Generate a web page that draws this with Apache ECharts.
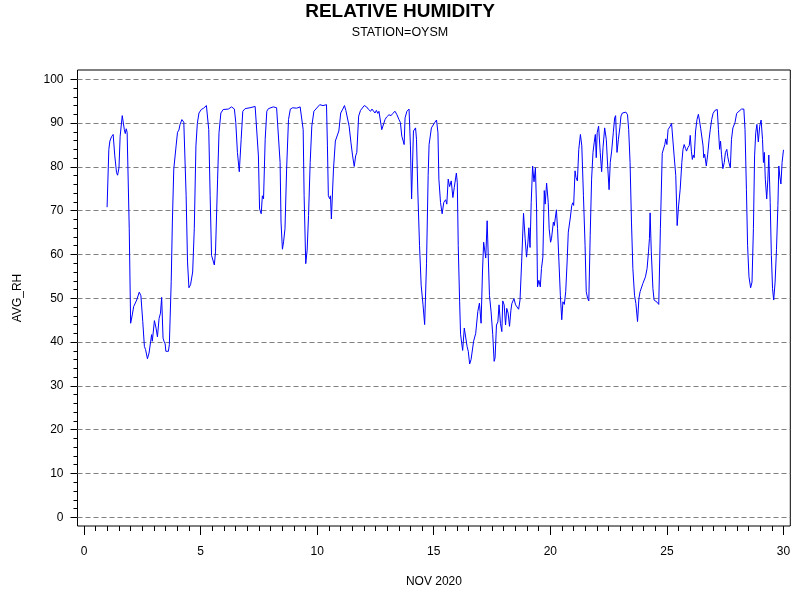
<!DOCTYPE html>
<html>
<head>
<meta charset="utf-8">
<script src="https://cdn.jsdelivr.net/npm/echarts@6/dist/echarts.min.js"></script>
<style>
  html, body { margin: 0; padding: 0; background: #fff; }
  #main { width: 800px; height: 600px; }
</style>
</head>
<body>
<div id="main"></div>
<script>
/* Relative humidity, station OYSM, Nov 2020 */

const days = [
  0.99, 1.065, 1.11, 1.18, 1.25, 1.32, 1.395, 1.44, 1.50, 1.55, 1.64, 1.73, 1.77, 1.81, 1.85, 1.90,
  1.94, 2.00, 2.07, 2.13, 2.19, 2.26, 2.37, 2.44, 2.52, 2.59, 2.64, 2.72, 2.79, 2.86, 2.90, 2.93,
  3.02, 3.09, 3.15, 3.22, 3.28, 3.33, 3.39, 3.43, 3.48, 3.51, 3.55, 3.62, 3.66, 3.74, 3.79, 3.85,
  3.91, 3.95, 4.01, 4.07, 4.12, 4.20, 4.28, 4.34, 4.38, 4.44, 4.50, 4.57, 4.66, 4.73, 4.80, 4.86,
  4.93, 5.03, 5.13, 5.25,
  5.30, 5.35, 5.41, 5.47, 5.53, 5.59, 5.64, 5.73, 5.79, 5.87, 5.97, 6.19, 6.33, 6.45, 6.51, 6.58,
  6.66, 6.74, 6.81, 6.91, 7.12, 7.34, 7.41, 7.48, 7.53, 7.60, 7.65, 7.70, 7.77, 7.84, 7.91, 8.12,
  8.26, 8.33, 8.41, 8.45, 8.51, 8.56, 8.62, 8.69, 8.77, 8.85, 8.95, 9.12, 9.27, 9.34, 9.40, 9.44,
  9.51, 9.57, 9.63, 9.70, 9.77, 9.86,
  10.11, 10.25, 10.40, 10.44, 10.48, 10.54, 10.57, 10.61, 10.64, 10.70, 10.78, 10.86, 10.93, 11.01,
  11.10, 11.17, 11.23, 11.30, 11.37, 11.45, 11.52, 11.59, 11.65, 11.70, 11.78, 11.86, 11.93, 12.02,
  12.12, 12.19, 12.24, 12.29, 12.35, 12.41, 12.48, 12.54, 12.60, 12.65, 12.71, 12.77, 12.84, 12.91,
  12.98, 13.08, 13.17, 13.24, 13.34, 13.42, 13.51, 13.57, 13.63, 13.69, 13.73, 13.77, 13.85, 13.94,
  14.00, 14.05, 14.09, 14.13, 14.22, 14.26, 14.32, 14.39, 14.46, 14.54, 14.61,
  14.69, 14.76, 14.80, 14.84, 14.90, 14.97, 15.05, 15.12, 15.18, 15.22, 15.29, 15.36, 15.43, 15.51,
  15.56, 15.62, 15.68, 15.75, 15.82, 15.88, 15.97, 16.01, 16.05, 16.11, 16.15, 16.20, 16.24, 16.31,
  16.37, 16.43, 16.48, 16.54, 16.60, 16.65, 16.71, 16.80, 16.89, 16.96, 17.03, 17.09, 17.14, 17.19,
  17.23, 17.29, 17.34, 17.39, 17.46, 17.53, 17.59, 17.63, 17.69, 17.75, 17.80, 17.86, 17.92, 17.96,
  18.02, 18.08, 18.13, 18.19, 18.25, 18.31, 18.35, 18.44, 18.51, 18.58, 18.64, 18.70, 18.77, 18.85,
  18.92, 18.98, 19.04, 19.08, 19.13, 19.18, 19.24, 19.30, 19.36, 19.41,
  19.45, 19.51, 19.57, 19.62, 19.68, 19.74, 19.78, 19.84, 19.91, 19.95, 20.01, 20.05, 20.13, 20.17,
  20.26, 20.31, 20.37, 20.43, 20.49, 20.54, 20.60, 20.66, 20.72, 20.77, 20.85, 20.92, 20.96, 21.00,
  21.06, 21.10, 21.16, 21.22, 21.29, 21.35, 21.42, 21.49, 21.54, 21.60, 21.65, 21.71, 21.77, 21.83,
  21.88, 21.93, 21.97, 22.01, 22.07, 22.14, 22.20, 22.26, 22.33, 22.40, 22.46, 22.52, 22.57, 22.63,
  22.70, 22.76, 22.80, 22.86, 22.92, 22.98, 23.03, 23.09, 23.15, 23.24, 23.31, 23.36, 23.42, 23.48,
  23.54, 23.61, 23.67, 23.74, 23.80, 23.85, 23.91, 23.97, 24.02, 24.08, 24.15, 24.21, 24.25, 24.28,
  24.33, 24.40, 24.45, 24.52, 24.58, 24.65,
  24.72, 24.80, 24.85, 24.91, 24.95, 25.00, 25.05, 25.14, 25.20, 25.25, 25.31, 25.38, 25.44, 25.50,
  25.57, 25.64, 25.69, 25.74, 25.80, 25.84, 25.90, 25.96, 26.00, 26.05, 26.09, 26.13, 26.17, 26.23,
  26.29, 26.35, 26.40, 26.45, 26.51, 26.55, 26.58, 26.62, 26.69, 26.75, 26.81, 26.86, 26.92, 26.98,
  27.06, 27.16, 27.21, 27.26, 27.30, 27.34, 27.40, 27.46, 27.51, 27.57, 27.61, 27.66, 27.72, 27.77,
  27.83, 27.92, 27.99, 28.09, 28.20, 28.30, 28.35, 28.41, 28.46, 28.52, 28.59, 28.65, 28.71, 28.76,
  28.81, 28.86, 28.92, 28.98, 29.04, 29.10, 29.14, 29.18, 29.22, 29.28, 29.33, 29.37, 29.43, 29.48,
  29.53, 29.58, 29.64, 29.70, 29.76, 29.80, 29.84, 29.89, 29.94, 30.00
];

const avgRh = [
  70.8, 84.0, 85.9, 86.9, 87.4, 82.5, 78.7, 78.1, 79.8, 87.0, 91.7, 88.5, 87.6, 88.7, 87.9, 88.2,
  65.9, 44.3, 46.2, 48.1, 48.5, 49.6, 51.4, 50.6, 44.7, 39.0, 38.3, 36.2, 37.5, 40.2, 41.7, 40.2,
  44.9, 43.2, 41.2, 45.4, 46.6, 50.2, 40.9, 40.2, 39.6, 37.9, 38.3, 37.9, 39.4, 53.8, 67.4, 79.5,
  79.8, 84.8, 87.9, 88.4, 89.7, 90.8, 90.2, 89.9, 73.4, 58.3, 52.4, 53.1, 56.0, 65.9, 84.8, 89.9,
  92.3, 93.1, 93.4, 94.0,
  93.8, 88.5, 73.4, 59.8, 59.5, 57.6, 60.6, 77.2, 87.8, 92.3, 93.1, 93.2, 93.7, 93.2, 90.1, 83.3,
  78.9, 86.3, 92.7, 93.3, 93.5, 93.8, 93.5, 82.5, 70.4, 69.3, 73.4, 72.7, 86.3, 92.7, 93.3, 93.7,
  93.5, 93.1, 81.0, 67.4, 61.2, 62.9, 65.9, 79.5, 90.8, 93.2, 93.5, 93.4, 93.7, 94.0, 88.5, 73.4,
  57.9, 61.0, 68.9, 81.0, 89.3, 92.7,
  94.2, 94.0, 94.2, 84.8, 73.4, 72.7, 73.4, 68.1, 68.5, 79.5, 85.9, 86.3, 88.2, 92.3,
  93.2, 94.0, 92.9, 93.1, 89.3, 85.5, 82.5, 80.1, 82.5, 83.3, 91.6, 92.9, 93.2, 94.0,
  93.7, 93.2, 93.5, 92.7, 93.2, 93.2, 92.3, 92.9, 92.2, 92.7, 93.1, 88.5, 88.9, 90.8,
  91.4, 91.9, 91.7, 92.2, 92.7, 91.9, 90.8, 90.1, 87.0, 85.9, 85.1, 91.2, 92.7, 93.2,
  84.8, 72.7, 72.3, 88.2, 88.9, 86.3, 73.8, 62.1, 53.0, 48.5, 44.0,
  58.0, 78.0, 85.1, 84.8, 88.9, 89.1, 90.2, 90.7, 87.8, 77.2, 71.9, 69.3, 71.9, 72.5,
  71.5, 77.2, 75.5, 76.8, 73.0, 75.3, 78.6, 76.4, 62.1, 49.2, 41.8, 41.8, 38.1, 43.2,
  43.6, 39.0, 37.9, 35.0, 36.0, 36.4, 40.2, 42.0, 47.0, 48.9, 44.3, 56.0, 62.8, 63.2,
  59.2, 67.7, 67.7, 50.6, 46.9, 41.7, 35.6, 36.4, 43.9, 44.6, 48.5, 44.3, 42.4, 49.4,
  48.5, 43.9, 47.7, 46.6, 43.6, 47.3, 48.8, 49.9, 48.5, 48.1, 47.5, 49.6, 58.3, 69.4,
  63.6, 59.4, 62.8, 66.1, 61.6, 71.9, 80.2, 76.6, 79.8, 70.6,
  52.6, 54.1, 52.6, 56.8, 59.4, 74.6, 71.5, 76.3, 71.9, 65.9, 62.8, 63.6, 67.4, 66.6,
  70.2, 65.9, 58.3, 50.7, 45.1, 49.2, 48.6, 51.5, 58.3, 65.1, 68.1, 71.2, 71.8, 71.2,
  79.1, 77.6, 76.8, 84.0, 87.4, 84.8, 73.4, 62.1, 51.5, 50.0, 49.4, 64.4, 77.2, 83.3,
  85.5, 87.4, 82.1, 87.8, 89.3, 83.3, 78.9, 84.4, 88.9, 86.3, 80.2, 74.8, 81.0, 83.6,
  87.8, 91.2, 91.7, 83.3, 86.3, 88.9, 91.6, 92.3, 92.7, 92.5, 91.9, 88.5, 81.0, 67.4,
  56.8, 50.7, 48.8, 44.7, 50.0, 51.5, 51.1, 53.4, 53.0, 54.9, 56.8, 60.6, 63.6, 69.5,
  60.6, 52.2, 49.6, 49.2, 49.1, 48.6,
  65.9, 83.1, 83.3, 85.1, 86.4, 85.1, 88.5, 89.3, 89.9, 90.1, 82.5, 78.0, 66.6, 71.1,
  74.9, 81.0, 84.0, 85.1, 84.2, 83.6, 84.4, 84.9, 87.2, 83.6, 81.7, 82.7, 82.1, 88.2,
  90.8, 92.0, 90.5, 88.7, 88.5, 84.8, 82.1, 82.9, 80.2, 82.9, 86.3, 88.5, 90.8, 92.2,
  92.9, 93.1, 88.5, 84.0, 85.9, 82.9, 79.6, 81.0, 83.3, 84.0, 82.3, 81.0, 79.8, 86.3,
  88.9, 90.1, 92.2, 92.7, 93.2, 93.2, 88.5, 74.9, 62.1, 54.9, 52.4, 53.7, 65.9, 82.5,
  87.8, 89.7, 85.7, 89.3, 90.7, 86.3, 81.0, 83.3, 77.2, 72.7, 77.2, 82.7, 71.9, 59.8,
  52.2, 49.6, 53.7, 61.2, 71.2, 80.2, 77.9, 76.1, 81.0, 83.9
];

// tick values
const xMajor = [0, 5, 10, 15, 20, 25, 30];
const yMajor = [0, 10, 20, 30, 40, 50, 60, 70, 80, 90, 100];
const xMinor = [];
for (let v = 0.5; v < 30; v += 0.5) xMinor.push(v);
const yMinor = [];
for (let v = 2; v < 100; v += 2) yMinor.push(v);

// the frame runs a little beyond the 0..30 / 0..100 data range
const X_MIN = -0.279, X_MAX = 30.292;
const Y_MIN = -1.99, Y_MAX = 102.12;

const FONT = 'Liberation Sans, Arial, sans-serif';
const tickLine = { color: '#000', width: 1 };

const chart = echarts.init(document.getElementById('main'), null, { renderer: 'canvas' });

chart.setOption({
  backgroundColor: '#fff',
  animation: false,
  title: [
    {
      text: 'RELATIVE HUMIDITY', left: 'center', top: 2, padding: 0,
      textStyle: { fontSize: 19, fontWeight: 'bold', color: '#000', fontFamily: FONT }
    },
    {
      text: 'STATION=OYSM', left: 'center', top: 26, padding: 0,
      textStyle: { fontSize: 12.5, fontWeight: 'normal', color: '#000', fontFamily: FONT }
    }
  ],
  grid: {
    left: 77.5, right: 9.7, top: 70, bottom: 74,
    show: true, borderColor: '#000', borderWidth: 1, backgroundColor: 'transparent'
  },
  xAxis: [
    {
      type: 'value', min: X_MIN, max: X_MAX, position: 'bottom',
      name: 'NOV 2020', nameLocation: 'middle', nameGap: 50,
      nameTextStyle: { fontSize: 12, color: '#000', fontFamily: FONT },
      axisLine: { show: false, onZero: false },
      axisTick: { show: true, length: 9, customValues: xMajor, lineStyle: tickLine },
      axisLabel: { customValues: xMajor, margin: 20, fontSize: 12, color: '#000', fontFamily: FONT },
      splitLine: { show: false }
    },
    {
      type: 'value', min: X_MIN, max: X_MAX, position: 'bottom',
      axisLine: { show: false, onZero: false },
      axisTick: { show: true, length: 5, customValues: xMinor, lineStyle: tickLine },
      axisLabel: { show: false },
      splitLine: { show: false }
    }
  ],
  yAxis: [
    {
      type: 'value', min: Y_MIN, max: Y_MAX, position: 'left',
      name: 'AVG_RH', nameLocation: 'middle', nameGap: 54,
      nameTextStyle: { fontSize: 12, color: '#000', fontFamily: FONT },
      axisLine: { show: false, onZero: false },
      axisTick: { show: true, length: 7, customValues: yMajor, lineStyle: tickLine },
      axisLabel: { customValues: yMajor, margin: 14, fontSize: 12, color: '#000', fontFamily: FONT },
      splitLine: { show: false }
    },
    {
      type: 'value', min: Y_MIN, max: Y_MAX, position: 'left',
      axisLine: { show: false, onZero: false },
      axisTick: { show: true, length: 4, customValues: yMinor, lineStyle: tickLine },
      axisLabel: { show: false },
      splitLine: { show: false }
    }
  ],
  series: [
    {
      name: 'AVG_RH', type: 'line', xAxisIndex: 0, yAxisIndex: 0,
      data: days.map((d, i) => [d, avgRh[i]]),
      showSymbol: false, symbol: 'none',
      lineStyle: { color: '#0000ff', width: 1 },
      z: 3,
      markLine: {
        silent: true, symbol: 'none', animation: false,
        label: { show: false },
        lineStyle: { color: '#808080', width: 1, type: [5, 3] },
        z: 1,
        data: yMajor.map(v => ({ yAxis: v }))
      }
    }
  ]
});
</script>
</body>
</html>
